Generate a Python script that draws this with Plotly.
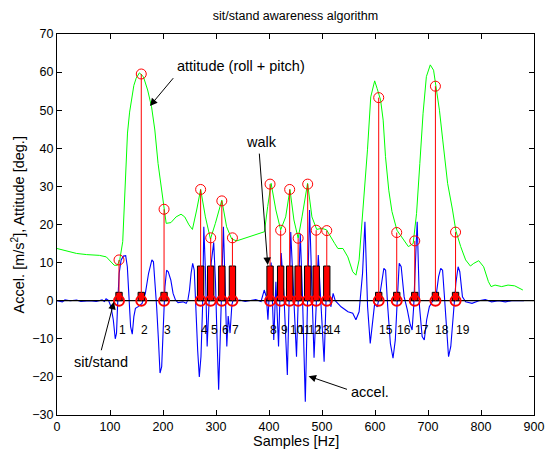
import plotly.graph_objects as go

# ---------------- data ----------------
att_x = [0, 18, 37, 56, 80, 93, 102, 108, 114, 118.5, 124, 127, 130, 133, 137, 141, 145, 149.4,
         155.5, 163, 171, 178.4, 184.6, 190.7, 196.9, 201.8, 206, 215, 224.7, 234, 241, 249, 255.5,
         263.5, 271, 280, 289.5, 298.8, 311, 320, 329.6, 339, 357.4, 376, 391.4, 397.5, 404, 413,
         422, 431.5, 439.5, 447, 455, 462.3, 472.8, 481, 490, 499.4, 508.6, 524, 530, 539.5, 548.7,
         558, 564, 570, 576.5, 581.5, 585.8, 592, 599.4, 604, 610.5, 615.4, 619.8, 626, 632, 641.4,
         650.6, 663, 672, 678.4, 684.6, 690.7, 696.9, 704.3, 710.5, 715.4, 721.6, 727.8, 737, 746.3,
         752.5, 761.7, 771, 780, 786.4, 795.7, 805, 814, 819, 826.5, 839, 851, 863.6, 879]
att_y = [13.7, 13.0, 12.4, 12.1, 11.9, 11.5, 10.0, 9.3, 9.3, 10.8, 15.5, 25, 37, 44, 49.5, 53.5, 56.5, 58.4,
         59.8, 58.8, 55.3, 50.9, 44.8, 36, 29, 24.7, 20.3, 20.5, 22, 22.7, 22, 19.9, 18.7,
         23.8, 29.2, 22, 16.2, 20.3, 26.4, 19.4, 16.2, 15.7, 16.6, 17.4, 18.1, 24.7, 30.8, 23.8,
         18.6, 22, 29.2, 21.2, 16.4, 22, 30.8, 22, 18.7, 19, 18.6, 15, 13.7, 13.7, 11.5,
         7.6, 6.7, 10.7, 22, 30.8, 39.6, 53.5, 57.7, 55.7, 52.7, 47.4, 37.8, 29, 23.4, 18.5,
         16.8, 14.2, 15, 22.9, 36, 49.2, 58.8, 61.9, 60.5, 56.2, 50, 42.2, 30.8, 23.8,
         18.4, 14.2, 10.7, 9.1, 9.8, 10.5, 8.9, 5, 3.7, 4.1, 3.7, 4.1, 3.9, 2.8]

acc_x = [0, 10, 15, 25, 37, 45, 62, 74, 85, 89.5, 92.6, 97.5, 101.9, 106.2, 109.9, 112.3, 114.2, 117.3,
         121, 125.3, 129.6, 132.7, 135.8, 138.9, 142, 145, 148, 154, 160.5, 166.7, 172.8, 179, 182,
         185, 188, 191.4, 194.4, 197.5, 200.6, 203.7, 206.8, 209.9, 214.8, 219, 223.5, 228.4, 237.7,
         243.8, 247, 250, 253, 256, 259, 262, 265.4, 268.5, 271.6, 274.7, 277, 280, 283.3, 287, 291,
         295.7, 299, 302, 305, 309, 314, 317, 320.4, 323, 326.5, 330, 333, 336, 345, 355, 365, 375,
         385, 391, 395, 398, 401, 404, 409, 413, 418, 423, 428, 434.6, 441, 446, 451.9, 459, 463,
         468.5, 476.5, 481, 485, 493, 498, 504, 509, 513, 516.7, 521, 525, 536, 549, 558, 564, 570,
         576.5, 581, 586, 591, 595.7, 599.4, 604.3, 610.5, 616.7, 620, 624, 629, 634, 638.3, 641.4,
         645.7, 649.4, 655, 661, 666, 670, 673, 677, 679.6, 684, 689, 693, 697.5, 702.5, 709, 715,
         720, 724, 727.5, 730.6, 735, 738.8, 743, 747.5, 752.5, 756.8, 760, 765, 771, 783, 796, 808,
         820, 833, 846, 858, 870, 881]
acc_y = [0, -0.3, 0.2, 0, 0.2, -0.2, 0, -0.2, 0.2, -0.2, 0.5, 0, -1.6, -5, -10, -8.5, -1.6, 7.2,
         10.7, 11.7, 11.8, 8.9, 1, -6.8, -8.8, -4.2, -2, -1.5, -0.7, 1.9, 7.2, 10.7, 10.2,
         5.4, -1.6, -10.3, -19, -17.3, -7.7, 3.7, 8, 7.6, 5.4, 1.9, 0.2, -0.5, -0.3,
         -0.7, 0.2, 2.8, 7.2, 9.8, 8, -4.2, -13, -20, -14.7, -1.6, 19.4, 8, -12, 0, 10,
         15.3, 5, -10, -23.4, -5, 19.4, 5, -12, -4, -8.5, -1, 0.5, 0, 0.2, -0.2, 0, 0.3,
         -0.2, 2.8, 1, -5, 3, 10, -10.3, 5, -12, 12.5, 2, -19.5, 18, 3, -14.7, 17.5, 2,
         -26.5, 23.8, 3, -15, 12, 0, -16, 6.3, 2, -1.6, 1.9, 0, -1.6, -2.9, -3.3, -5, -2.9,
         7.2, 20.7, -1.6, -11.2, -6, -0.7, -1.6, 2.8, 8.5, 8, -1.6, -11.2, -15.1, -10.3, -1.6,
         9.8, 8.9, 1, -2.4, -6, -7.7, -1.6, 12.4, 20.7, -1.6, -9.4, -10.3, -5, -1.6, 0, 1,
         6.3, 8.5, 8, 1.9, -8.6, -14.7, -12, -4.2, 4.5, 8.9, 7.6, 1, -0.3, -0.7, 0, 0.3,
         -0.3, 0, -0.3, 0, 0, 0]

ev_x = [117, 159, 202, 271, 290, 311, 331, 402, 422, 439, 455, 473, 489, 509, 607, 641, 675, 714, 752]
ev_att = [10.7, 59.5, 24, 29.2, 16.5, 26.2, 16.5, 30.6, 18.5, 29.2, 16.4, 30.6, 18.5, 18.4,
          53.3, 17.9, 15.7, 56.3, 18]
ev_lbl = ["1", "2", "3", "4", "5", "6", "7", "8", "9", "10", "11", "12", "13", "14",
          "15", "16", "17", "18", "19"]
ev_bar = [2.2, 2.2, 2.2, 9.1, 9.1, 9.1, 9.1, 9.1, 9.1, 9.1, 9.1, 9.1, 9.1, 9.1,
          2.2, 2.2, 2.2, 2.2, 2.2]

x_ticks = [0, 100, 200, 300, 400, 500, 600, 700, 800, 900]
y_ticks = [-30, -20, -10, 0, 10, 20, 30, 40, 50, 60, 70]

# ---------------- styling ----------------
FONT = "Liberation Sans, Arial, Helvetica, sans-serif"
FS = 12.5     # ticks, title
FS_N = 12     # event numbers
FS_L = 14.5   # axis labels and annotation texts
BAR_W = 12
LBL_Y = -7.7

fig = go.Figure()

fig.add_trace(go.Scatter(x=att_x, y=att_y, mode="lines",
                         line=dict(color="#00ff00", width=1), hoverinfo="skip"))
fig.add_trace(go.Scatter(x=acc_x, y=acc_y, mode="lines",
                         line=dict(color="#0000ff", width=1.1), hoverinfo="skip"))
fig.add_trace(go.Scatter(x=[x_ticks[0], x_ticks[-1]], y=[0, 0], mode="lines",
                         line=dict(color="black", width=1.2), hoverinfo="skip"))

# event rectangles (built from event positions and heights)
rx, ry = [], []
for e, h in zip(ev_x, ev_bar):
    rx += [e - BAR_W / 2, e + BAR_W / 2, e + BAR_W / 2, e - BAR_W / 2, e - BAR_W / 2, None]
    ry += [0, 0, h, h, 0, None]
fig.add_trace(go.Scatter(x=rx, y=ry, mode="lines", fill="toself", fillcolor="#ff0000",
                         line=dict(color="black", width=1), hoverinfo="skip"))

# stems
sx, sy = [], []
for e, v in zip(ev_x, ev_att):
    sx += [e, e, None]
    sy += [0, v, None]
fig.add_trace(go.Scatter(x=sx, y=sy, mode="lines",
                         line=dict(color="#ff0000", width=1), hoverinfo="skip"))
fig.add_trace(go.Scatter(x=ev_x, y=ev_att, mode="markers",
                         marker=dict(symbol="circle-open", size=10, color="#ff0000",
                                     line=dict(width=1)), hoverinfo="skip"))
fig.add_trace(go.Scatter(x=ev_x, y=[0] * len(ev_x), mode="markers",
                         marker=dict(symbol="circle-open", size=10, color="#ff0000",
                                     line=dict(width=2)), hoverinfo="skip"))

ann = []
for e, t in zip(ev_x, ev_lbl):
    ann.append(dict(x=e, y=LBL_Y, xref="x", yref="y", text=t, showarrow=False,
                    xanchor="left", yanchor="middle", borderpad=0, xshift=-1,
                    font=dict(family=FONT, size=FS_N, color="black")))

def txt(x, y, t):
    return dict(x=x, y=y, xref="x", yref="y", text=t, showarrow=False,
                xanchor="left", yanchor="middle", borderpad=0,
                font=dict(family=FONT, size=FS_L, color="black"))

def arrow(x, y, ax, ay):
    return dict(x=x, y=y, ax=ax, ay=ay, xref="x", yref="y", axref="x", ayref="y",
                text="", showarrow=True, arrowhead=2, arrowsize=1.5, arrowwidth=1,
                arrowcolor="black", standoff=0, startstandoff=0)

ann += [
    txt(224, 61.6, "attitude (roll + pitch)"),
    arrow(175.4, 51.1, 221.7, 58.8),
    txt(355.6, 41.7, "walk"),
    arrow(397.6, 9.4, 381.5, 39),
    txt(29.6, -16, "sit/stand"),
    arrow(107.4, -0.3, 82.8, -13.4),
    txt(552, -23.9, "accel."),
    arrow(474.6, -19.8, 550, -23.4),
    dict(x=0.5, y=-0.068, xref="paper", yref="paper", text="Samples [Hz]", showarrow=False,
         xanchor="center", yanchor="middle", font=dict(family=FONT, size=FS_L, color="black")),
    dict(x=-0.082, y=0.5, xref="paper", yref="paper", text="Accel. [m/s<sup>2</sup>], Attitude [deg.]",
         showarrow=False, textangle=-90, xanchor="center", yanchor="middle",
         font=dict(family=FONT, size=FS_L, color="black")),
]

axis_common = dict(showgrid=False, zeroline=False, showline=True, linecolor="black", linewidth=1,
                   mirror="allticks", ticks="inside", ticklen=5, tickcolor="black",
                   tickfont=dict(family=FONT, size=FS, color="black"))

fig.update_layout(
    width=556, height=459, autosize=False,
    margin=dict(l=57, r=13, t=34, b=44),
    paper_bgcolor="white", plot_bgcolor="white",
    showlegend=False,
    title=dict(text="sit/stand awareness algorithm", x=0.5, xref="paper", xanchor="center",
               y=1 - 16 / 459, yref="container", yanchor="middle",
               font=dict(family=FONT, size=FS, color="black")),
    xaxis=dict(range=[x_ticks[0], x_ticks[-1]], tickvals=x_ticks, **axis_common),
    yaxis=dict(range=[y_ticks[0], y_ticks[-1]], tickvals=y_ticks, **axis_common),
    annotations=ann,
)

fig.write_html("out.html")
